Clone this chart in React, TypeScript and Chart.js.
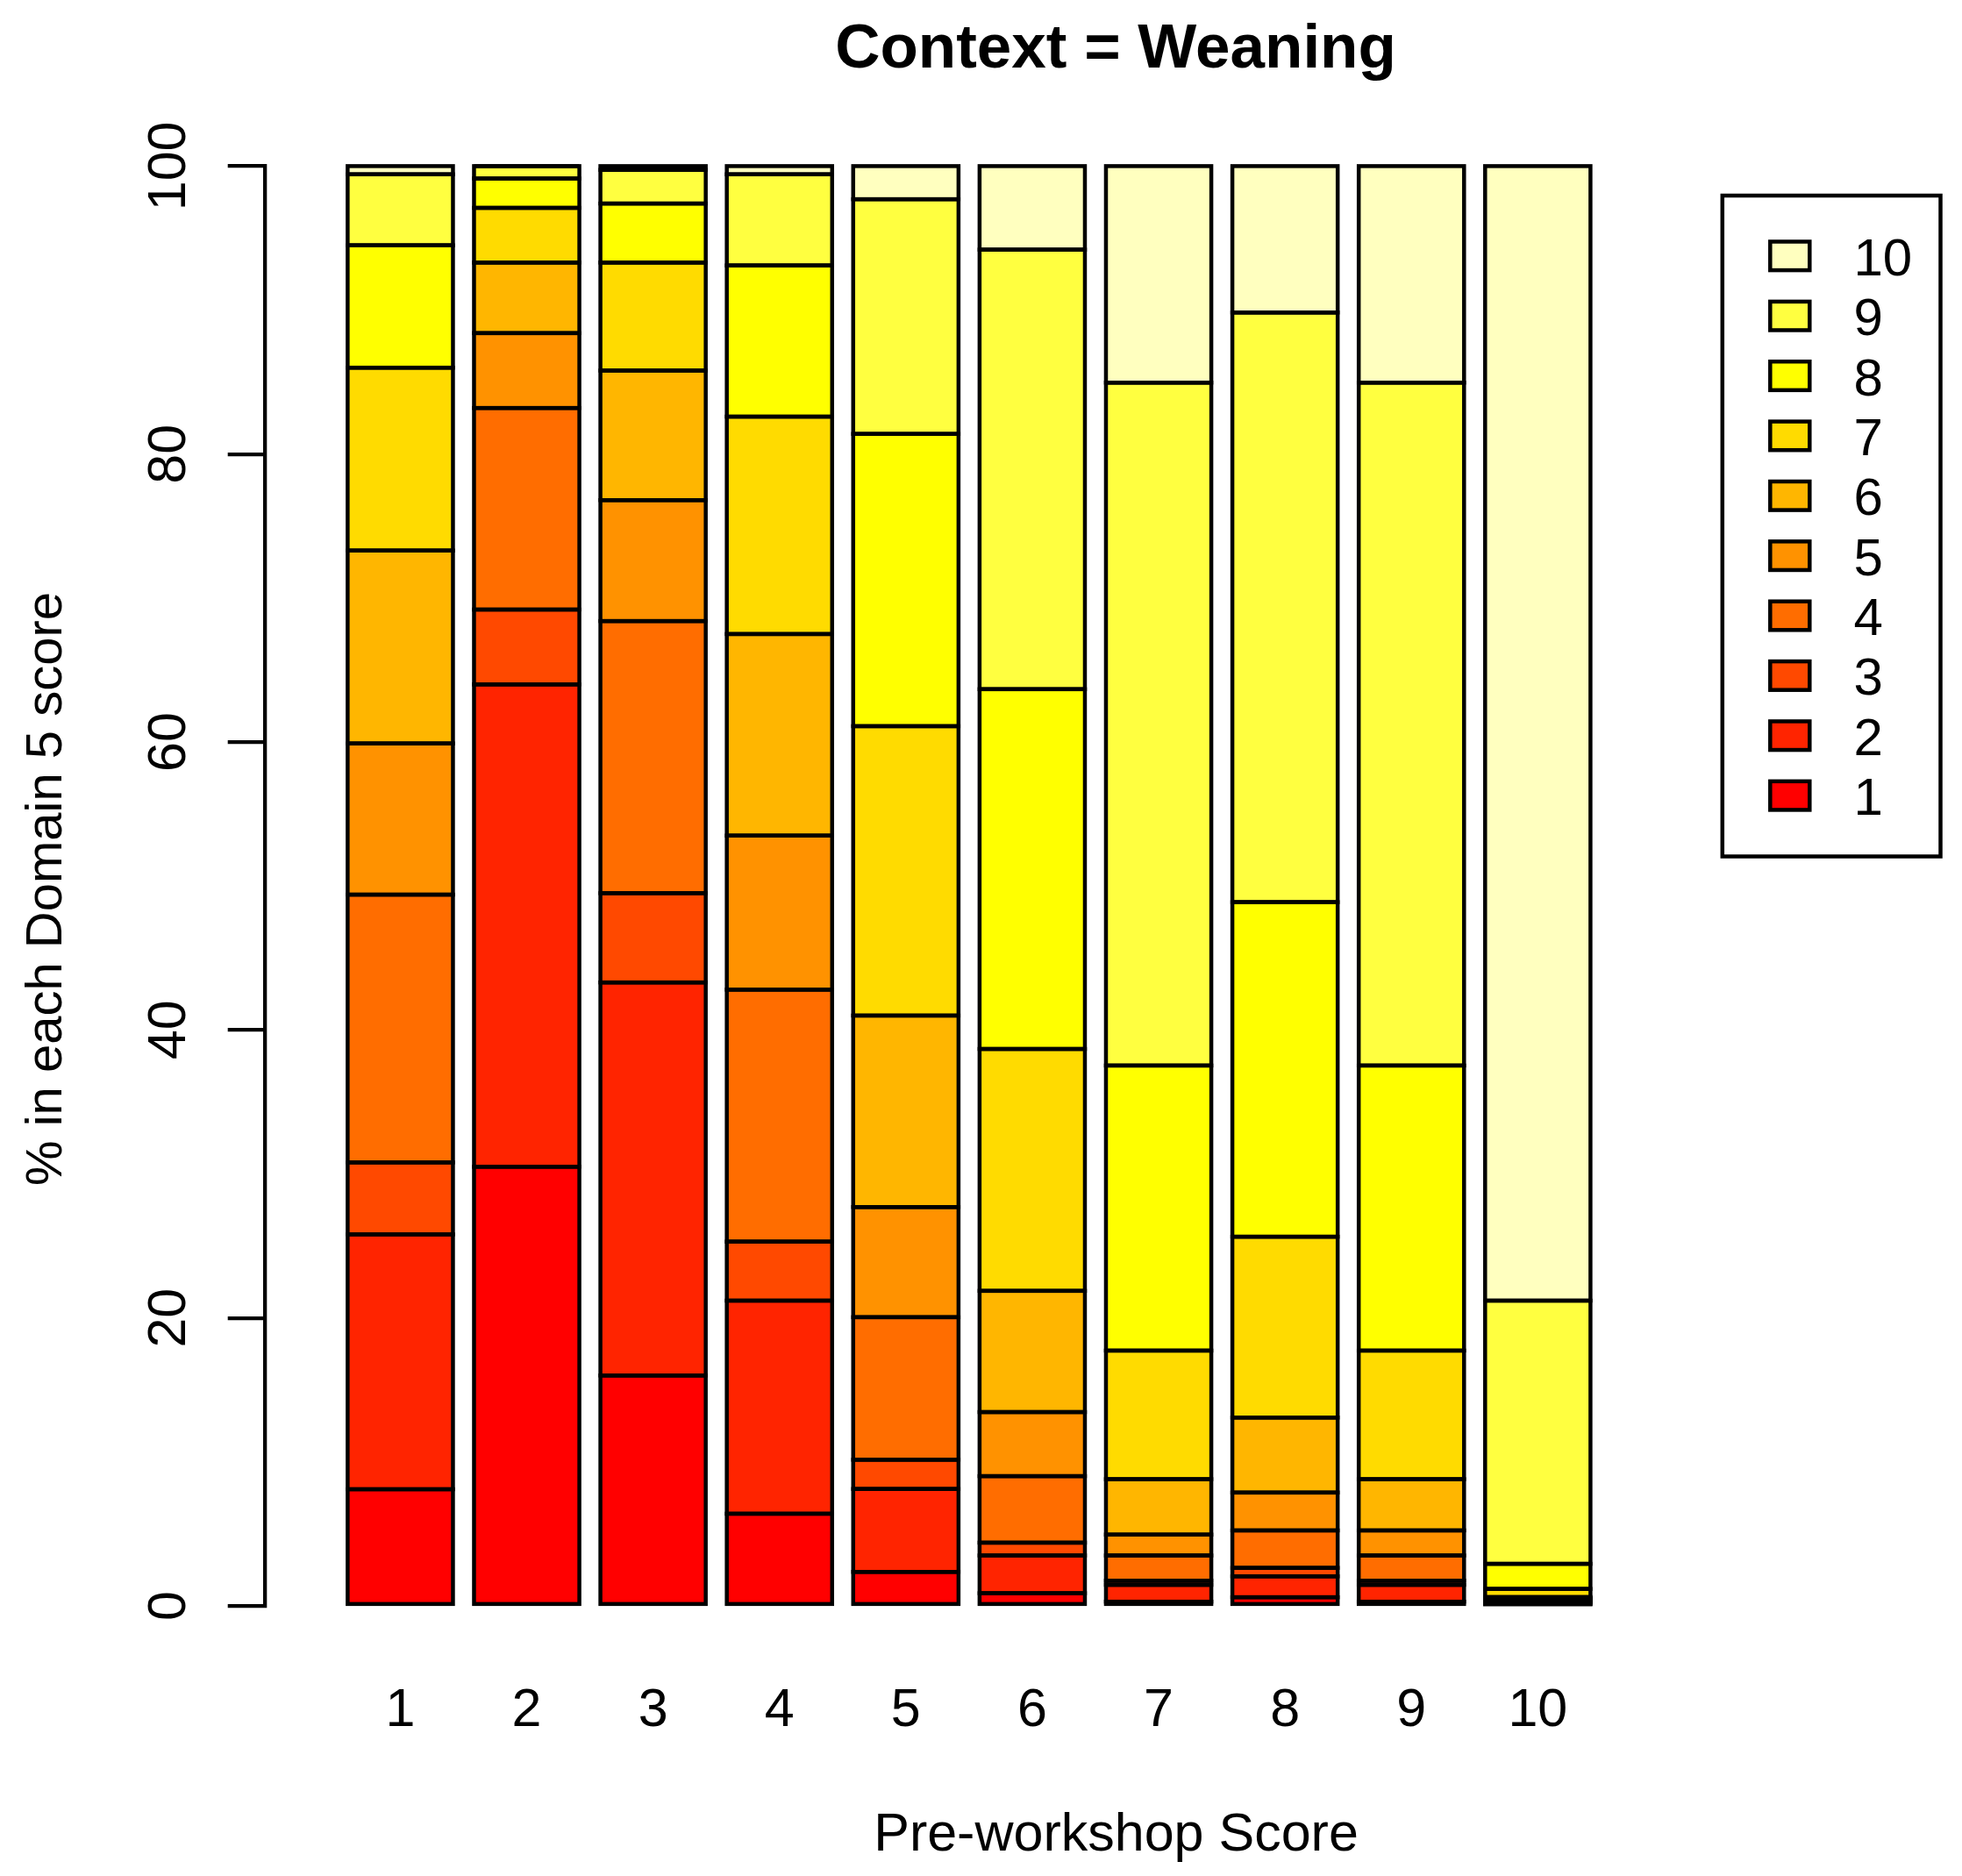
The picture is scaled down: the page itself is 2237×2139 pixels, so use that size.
import { useEffect, useRef } from "react";
import Chart from "chart.js/auto";

// Pre-workshop score (x categories) and Domain 5 score levels (stacked series)
const preScores = ["1", "2", "3", "4", "5", "6", "7", "8", "9", "10"];
const domainLevels = ["1", "2", "3", "4", "5", "6", "7", "8", "9", "10"];
const heatColors = [
  "#FF0000", "#FF2400", "#FF4900", "#FF6D00", "#FF9200",
  "#FFB600", "#FFDB00", "#FFFF00", "#FFFF40", "#FFFFBF",
];

// % in each Domain 5 score, one array per level, across pre-workshop scores 1..10
const pctLevel1 = [8.1, 30.5, 16.0, 6.4, 2.36, 0.88, 0.29, 0.6, 0.29, 0.12];
const pctLevel2 = [17.7, 33.5, 27.3, 14.8, 5.76, 2.62, 1.17, 1.45, 1.17, 0.12];
const pctLevel3 = [5.0, 5.2, 6.2, 4.1, 2.03, 0.89, 0.29, 0.59, 0.29, 0.12];
const pctLevel4 = [18.6, 14.0, 18.9, 17.5, 9.9, 4.62, 1.75, 2.6, 1.75, 0.12];
const pctLevel5 = [10.5, 5.2, 8.4, 10.7, 7.65, 4.45, 1.45, 2.63, 1.74, 0.06];
const pctLevel6 = [13.4, 4.9, 9.0, 14.0, 13.3, 8.42, 3.85, 5.21, 3.56, 0.07];
const pctLevel7 = [12.7, 3.8, 7.5, 15.1, 20.1, 16.8, 8.93, 12.56, 8.93, 0.57];
const pctLevel8 = [8.5, 2.04, 4.1, 10.5, 20.3, 24.99, 19.8, 23.24, 19.8, 1.74];
const pctLevel9 = [4.93, 0.86, 2.34, 6.33, 16.3, 30.53, 47.43, 40.95, 47.43, 18.28];
const pctLevel10 = [0.57, 0, 0.26, 0.57, 2.3, 5.8, 15.04, 10.17, 15.04, 78.8];
const levelSeries = [
  pctLevel1, pctLevel2, pctLevel3, pctLevel4, pctLevel5,
  pctLevel6, pctLevel7, pctLevel8, pctLevel9, pctLevel10,
];

const yTickValues = [0, 20, 40, 60, 80, 100];

const TITLE = "Context = Weaning";
const X_TITLE = "Pre-workshop Score";
const Y_TITLE = "% in each Domain 5 score";

// layout (pixels)
const W = 2237;
const H = 2139;
const FONT = '"Liberation Sans", Arial, sans-serif';
const PLOT = { left: 301.7, right: 1880, top: 189.4, bottom: 1831 };
const X_MIN = -0.0736;
const X_MAX = 10.879;
const BAR_WIDTH = 120.1;
const BAR_LINE = 4.5;
const AXIS_LINE = 4.3;
const LEGEND = {
  left: 1963.8,
  top: 223,
  right: 2212.5,
  bottom: 976.5,
  swatchX: 2040.8,
  swatchW: 45,
  swatchH: 32.6,
  firstRow: 291.8,
  rowGap: 68.37,
  textX: 2113.5,
  textDrop: 22,
  fontSize: 60,
};

const outlinePlugin = {
  id: "barOutlines",
  afterDatasetsDraw(chart: any) {
    const ctx = chart.ctx;
    ctx.save();
    ctx.strokeStyle = "#000";
    ctx.lineWidth = BAR_LINE;
    chart.data.datasets.forEach((_: any, di: number) => {
      const meta = chart.getDatasetMeta(di);
      meta.data.forEach((el: any) => {
        const { x, y, base, width } = el.getProps(["x", "y", "base", "width"], true);
        ctx.strokeRect(x - width / 2, Math.min(y, base), width, Math.abs(base - y));
      });
    });
    ctx.restore();
  },
};

const textPlugin = {
  id: "titlesAndLegend",
  afterDraw(chart: any) {
    const ctx = chart.ctx;
    ctx.save();
    ctx.fillStyle = "#000";
    ctx.textAlign = "center";
    ctx.textBaseline = "alphabetic";
    ctx.font = `bold 71px ${FONT}`;
    ctx.fillText(TITLE, 1272, 77);
    ctx.font = `61px ${FONT}`;
    ctx.fillText(X_TITLE, 1272.5, 2110);
    ctx.save();
    ctx.translate(70, 1013.5);
    ctx.rotate(-Math.PI / 2);
    ctx.font = `58px ${FONT}`;
    ctx.fillText(Y_TITLE, 0, 0);
    ctx.restore();

    // legend, highest level on top
    ctx.lineWidth = BAR_LINE;
    ctx.strokeStyle = "#000";
    ctx.strokeRect(LEGEND.left, LEGEND.top, LEGEND.right - LEGEND.left, LEGEND.bottom - LEGEND.top);
    ctx.font = `${LEGEND.fontSize}px ${FONT}`;
    ctx.textAlign = "left";
    const sets = chart.data.datasets.slice().reverse();
    sets.forEach((ds: any, i: number) => {
      const cy = LEGEND.firstRow + i * LEGEND.rowGap;
      const sx = LEGEND.swatchX - LEGEND.swatchW / 2;
      const sy = cy - LEGEND.swatchH / 2;
      ctx.fillStyle = ds.backgroundColor;
      ctx.fillRect(sx, sy, LEGEND.swatchW, LEGEND.swatchH);
      ctx.strokeRect(sx, sy, LEGEND.swatchW, LEGEND.swatchH);
      ctx.fillStyle = "#000";
      ctx.fillText(ds.label, LEGEND.textX, cy + LEGEND.textDrop);
    });
    ctx.restore();
  },
};

export default function App() {
  const canvasRef = useRef<HTMLCanvasElement | null>(null);

  useEffect(() => {
    const canvas = canvasRef.current;
    if (!canvas) return;

    const chart = new Chart(canvas, {
      type: "bar",
      data: {
        datasets: levelSeries.map((values, li) => ({
          label: domainLevels[li],
          data: values.map((v, i) => ({ x: i + 1, y: v })),
          backgroundColor: heatColors[li],
          borderWidth: 0,
          barThickness: BAR_WIDTH,
          clip: false as any,
        })),
      },
      options: {
        animation: false,
        responsive: false,
        maintainAspectRatio: false,
        devicePixelRatio: 1,
        layout: {
          padding: { left: 0, right: W - PLOT.right, top: PLOT.top, bottom: 0 },
        },
        plugins: {
          legend: { display: false },
          title: { display: false },
          tooltip: { enabled: false },
        },
        scales: {
          x: {
            type: "linear",
            stacked: true,
            offset: false,
            min: X_MIN,
            max: X_MAX,
            grid: { display: false, drawTicks: false },
            border: { display: false },
            afterBuildTicks: (scale: any) => {
              scale.ticks = preScores.map((_, i) => ({ value: i + 1 }));
            },
            afterFit: (scale: any) => {
              scale.height = H - PLOT.bottom;
            },
            ticks: {
              autoSkip: false,
              maxRotation: 0,
              padding: 84,
              color: "#000",
              font: { family: FONT, size: 61 },
              callback: (value: any) => preScores[Number(value) - 1] ?? "",
            },
          },
          y: {
            type: "linear",
            stacked: true,
            position: "left",
            min: 0,
            max: 100,
            afterBuildTicks: (scale: any) => {
              scale.ticks = yTickValues.map((v) => ({ value: v }));
            },
            afterFit: (scale: any) => {
              scale.width = PLOT.left;
            },
            grid: {
              drawOnChartArea: false,
              drawTicks: true,
              tickLength: 42,
              lineWidth: AXIS_LINE,
              color: "#000",
            },
            border: { display: true, color: "#000", width: AXIS_LINE },
            ticks: {
              autoSkip: false,
              minRotation: 90,
              maxRotation: 90,
              crossAlign: "center",
              padding: 15,
              color: "#000",
              font: { family: FONT, size: 61 },
            },
          },
        },
      },
      plugins: [outlinePlugin, textPlugin],
    });

    return () => chart.destroy();
  }, []);

  return (
    <div style={{ position: "fixed", left: 0, top: 0, width: W, height: H, background: "#fff" }}>
      <canvas ref={canvasRef} width={W} height={H} style={{ display: "block", width: W, height: H }} />
    </div>
  );
}
